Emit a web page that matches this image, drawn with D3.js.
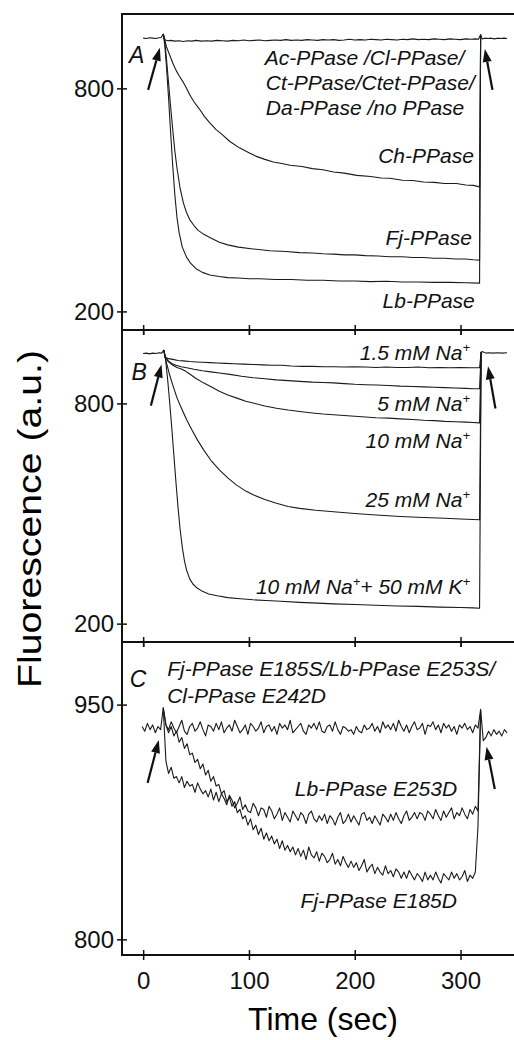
<!DOCTYPE html>
<html>
<head>
<meta charset="utf-8">
<script src="https://cdn.jsdelivr.net/npm/d3@7"></script>
<style>
  body { margin: 0; background: #fff; }
  svg { display: block; font-family: "Liberation Sans", Arial, sans-serif; }
  .rotulo { font-style: italic; font-size: 21px; fill: #111; }
  .letra { font-style: italic; font-size: 23px; fill: #111; }
  .tick text { font-size: 24px; fill: #111; font-family: "Liberation Sans", Arial, sans-serif; }
  .tick line { stroke: #111; stroke-width: 1.5; }
  .traco { fill: none; stroke: #1a1a1a; stroke-width: 1.1; stroke-linejoin: round; }
</style>
</head>
<body>
<svg id="grafico"></svg>
<script>
// ---- painel A: [tempo (s), fluorescencia] ----
var semEfeitoA = [[0,935],[3,934],[6,936],[9,935],[12,934],[15,936],[17,937],[19,946],[20.5,931],[23,928],[26,929],[30,927],[34,928],[38,926],[42,928],[46,927],[50,929],[55,927],[60,928],[65,927],[70,929],[75,928],[80,927],[85,929],[90,928],[95,930],[100,928],[105,929],[110,930],[115,928],[120,929],[125,930],[130,929],[135,931],[140,929],[145,930],[150,929],[155,931],[160,930],[165,929],[170,931],[175,930],[180,931],[185,929],[190,930],[195,932],[200,930],[205,931],[210,930],[215,932],[220,931],[225,930],[230,932],[235,931],[240,930],[245,932],[250,931],[255,933],[260,931],[265,932],[270,931],[275,933],[280,932],[285,931],[290,933],[295,932],[300,931],[305,933],[310,932],[314,933],[317,932],[319,944],[320.5,933],[323,935],[326,934],[329,935],[332,933],[335,935],[338,934],[341,935],[344,934]];
var chA = [[19,946],[20.5,930],[22,912],[25,890],[28,868],[31,849],[34,834],[38,816],[41,800],[44,783],[48,764],[53,745],[58,724],[63,707],[69,689],[75,675],[82,657],[91,640],[100,627],[107,617],[115,609],[123,602],[131,598],[139,593],[150,590],[160,584],[170,581],[180,575],[190,572],[202,566],[215,563],[225,559],[233,558],[245,553],[255,552],[265,548],[275,547],[285,544],[296,544],[305,540],[312,539],[318,535],[319,944]];
var fjA = [[19,946],[20.5,925],[22,880],[24,815],[26,750],[28,688],[30,630],[32,585],[35,530],[38,492],[41,466],[44,447],[48,431],[52,418],[57,408],[63,399],[72,386],[80,379],[90,373],[104,368],[120,363],[135,361],[148,358],[160,357],[170,355],[180,354],[190,352],[200,352],[210,350],[222,349],[233,347],[245,347],[255,345],[265,345],[275,343],[285,343],[295,341],[305,341],[312,339],[318,338],[319,944]];
var lbA = [[19,946],[20.5,915],[22,860],[24,775],[26,680],[28,590],[30,512],[32,452],[34,412],[37,373],[41,346],[45,329],[50,315],[56,305],[63,298],[72,294],[80,291],[90,290],[100,288],[110,288],[125,286],[140,286],[155,284],[170,284],[185,282],[200,282],[215,280],[230,281],[245,279],[260,279],[275,278],[290,278],[305,277],[318,276],[319,944]];

// ---- painel B ----
var na15 = [[0,936],[3,937],[6,935],[9,937],[12,936],[15,938],[17.5,937],[19.5,945],[21,926],[24,922],[28,920],[33,917],[38,916],[44,914],[50,913],[56,912],[63,911],[70,910],[78,909],[86,908],[95,907],[104,906],[113,905],[122,904],[131,904],[140,902],[150,901],[160,901],[170,900],[180,900],[190,899],[200,900],[210,899],[220,898],[230,899],[240,898],[250,898],[260,899],[270,897],[280,898],[290,897],[300,898],[310,897],[318,897],[319.5,940],[321,941],[324,937],[327,938],[331,937],[335,938],[339,937],[344,938]];
var na5 = [[19.5,945],[21,925],[24,915],[27,909],[31,904],[36,900],[41,897],[48,893],[56,889],[64,886],[72,883],[82,879],[93,874],[104,870],[115,867],[126,864],[137,862],[148,860],[160,858],[170,857],[180,856],[190,854],[200,852],[210,851],[220,850],[232,849],[243,847],[255,846],[265,845],[275,844],[285,843],[295,842],[305,841],[312,840],[318,840],[319.5,940]];
var na10 = [[19.5,945],[21,924],[24,913],[28,904],[32,898],[36,894],[40,888],[44,880],[50,868],[57,856],[65,844],[72,833],[80,823],[90,813],[97,806],[104,801],[115,793],[126,787],[137,782],[148,778],[160,774],[170,771],[180,769],[190,767],[200,765],[210,763],[220,761],[232,760],[243,758],[255,756],[265,754],[275,753],[285,751],[295,750],[305,749],[312,748],[318,747],[319.5,940]];
var na25 = [[19.5,945],[21,922],[23,900],[25,878],[28,850],[32,815],[36,788],[41,756],[46,728],[51,702],[57,674],[64,645],[72,619],[80,597],[88,578],[96,563],[104,551],[115,538],[126,528],[137,519],[148,514],[163,509],[180,505],[200,500],[220,496],[243,492],[265,489],[285,487],[300,485],[318,483],[319.5,940]];
var naK = [[19.5,945],[21,925],[23,870],[25,805],[27,735],[29,660],[31,585],[33,515],[35,455],[37,408],[39,372],[41,346],[44,322],[47,308],[51,297],[56,288],[62,281],[70,276],[80,271],[92,268],[104,265],[116,263],[130,261],[148,258],[165,256],[180,254],[200,252],[220,250],[240,248],[260,247],[280,245],[300,244],[312,243],[318,242],[319.5,940]];

// ---- painel C: amostras a cada 2.5 s ----
var passoC = 2.5;
var inicioTopoC = -1;
var topoC = [936,933,938,934,937,932,936,934,948,
  937,934,939,935,932,936,940,933,931,936, 938,933,935,939,934,930,937,936,933,938,
  934,939,932,935,937,933,940,936,932,934, 937,931,938,936,933,935,939,932,936,937,
  933,936,931,938,935,937,934,940,932,934, 936,938,933,931,937,935,938,934,939,933,
  932,936,937,933,939,934,931,936,935,933, 934,931,936,933,932,937,934,935,938,933,
  936,932,939,935,937,934,938,933,940,936, 933,937,932,936,939,934,935,938,931,937,
  936,939,934,937,932,938,935,937,933,936, 931,937,935,938,934,936,932,937,935,
  947,927,929,933,930,934,931,933,930,934,932];
var inicioMutC = 19;
var lbE253D = [948,914,906,910,903,904,900,904,897,901,898,
  899,894,900,896,893, 895,891,896,889,894, 888,893,890,886,892, 889,884,887,891,883,
  886,882,881,887,884, 879,884,883,878,885, 882,877,880,884,876, 881,878,875,882,879,
  876,881,879,874,880, 882,877,875,879,876, 880,874,879,877,873, 878,881,874,876,880,
  875,879,876,873,880, 881,876,878,874,879, 876,873,880,878,875, 880,876,881,877,874,
  879,882,876,878,881, 877,881,880,876,882, 880,877,883,879,876, 882,878,881,884,877,
  881,879,884,880,877, 883,880,885,882, 946];
var fjE185D = [948,
  937,932,936,930,933,926,929,922,925,918,
  919,913,915,909,912,905,908,901,904,898,
  899,893,895,888,891,885,888,881,883,877,
  879,873,877,870,873,867,871,864,868,863,
  866,861,864,858,863,857,860,856,859,854,
  858,853,857,851,859,854,852,856,850,855,
  853,849,851,855,848,851,847,853,849,846,
  850,846,849,844,847,851,843,846,848,842,
  846,843,841,847,842,844,840,845,843,839,
  843,839,844,841,838,842,840,837,843,838,
  841,838,843,839,836,842,840,838,843,839,
  842,838,840,844,837,841,839,843,
  872,946];

// ---- marcas do eixo e textos ----
var ticksX = [0, 100, 200, 300];
var ticksA = [200, 800];
var ticksB = [200, 800];
var ticksC = [800, 950];

var rotulosA = [
  {t: 115, v: 863, texto: 'Ac-PPase /Cl-PPase/', ancora: 'start'},
  {t: 116, v: 796, texto: 'Ct-PPase/Ctet-PPase/', ancora: 'start'},
  {t: 116, v: 728, texto: 'Da-PPase /no PPase', ancora: 'start'},
  {t: 312.6, v: 599, texto: 'Ch-PPase', ancora: 'end'},
  {t: 310.7, v: 379, texto: 'Fj-PPase', ancora: 'end'},
  {t: 313.5, v: 209, texto: 'Lb-PPase', ancora: 'end'}
];
var rotulosB = [
  {t: 309, v: 918, texto: '1.5 mM Na^+', ancora: 'end'},
  {t: 309, v: 780, texto: '5 mM Na^+', ancora: 'end'},
  {t: 309, v: 679, texto: '10 mM Na^+', ancora: 'end'},
  {t: 309, v: 519, texto: '25 mM Na^+', ancora: 'end'},
  {t: 309, v: 280, texto: '10 mM Na^++ 50 mM K^+', ancora: 'end'}
];
var rotulosC = [
  {t: 22.7, v: 968, texto: 'Fj-PPase E185S/Lb-PPase E253S/', ancora: 'start'},
  {t: 22.7, v: 951, texto: 'Cl-PPase E242D', ancora: 'start'},
  {t: 143.4, v: 891.6, texto: 'Lb-PPase E253D', ancora: 'start'},
  {t: 148.8, v: 820, texto: 'Fj-PPase E185D', ancora: 'start'}
];

// setas: [tempo cauda, valor cauda, tempo ponta, valor ponta]
var setasA = [[4.7, 796, 15.8, 909], [330.2, 796, 323, 906]];
var setasB = [[7.3, 794, 17.4, 906], [333, 786, 326, 901]];
var setasC = [[4.2, 900, 14.8, 927.4], [332.4, 896, 324.6, 923]];

function amostras(inicio, passo, valores) {
  return valores.map((v, i) => [inicio + i * passo, v]);
}

var largura = 514, altura = 1040;
var svg = d3.select('#grafico')
            .attr('width', largura)
            .attr('height', altura);

var esquerda = 122, direita = 524;
var x = d3.scaleLinear().domain([-20, 360]).range([esquerda, direita]);

var paineis = [
  {letra: 'A', topo: 14, base: 330, dominio: [150, 1000], ticks: ticksA,
   series: [semEfeitoA, chA, fjA, lbA], rotulos: rotulosA, setas: setasA, letraPos: [-13.5, 869]},
  {letra: 'B', topo: 330, base: 642, dominio: [150, 1000], ticks: ticksB,
   series: [na15, na5, na10, na25, naK], rotulos: rotulosB, setas: setasB, letraPos: [-11, 863]},
  {letra: 'C', topo: 642, base: 955, dominio: [790, 990], ticks: ticksC,
   series: [amostras(inicioTopoC, passoC, topoC), amostras(inicioMutC, passoC, lbE253D), amostras(inicioMutC, passoC, fjE185D)],
   rotulos: rotulosC, setas: setasC, letraPos: [-12.6, 961.4]}
];

paineis.forEach(function(p, k) {
  var y = d3.scaleLinear().domain(p.dominio).range([p.base, p.topo]);
  var g = svg.append('g').attr('id', 'painel' + p.letra);

  var linha = d3.line().x(d => x(d[0])).y(d => y(d[1]));
  g.selectAll('.traco')
    .data(p.series)
    .enter()
      .append('path')
      .classed('traco', true)
      .attr('d', linha);

  // eixo y (marcas cruzando a borda)
  g.append('g')
   .attr('transform', 'translate(' + esquerda + ',0)')
   .call(d3.axisLeft(y).tickValues(p.ticks).tickSize(5).tickPadding(3))
   .call(s => s.select('.domain').remove());
  g.append('g')
   .attr('transform', 'translate(' + esquerda + ',0)')
   .call(d3.axisRight(y).tickValues(p.ticks).tickSize(5).tickFormat(''))
   .call(s => s.select('.domain').remove());

  // marcas de x na base do painel
  g.append('g')
   .attr('transform', 'translate(0,' + p.base + ')')
   .call(d3.axisTop(x).tickValues(ticksX).tickSize(5).tickFormat(''))
   .call(s => s.select('.domain').remove());
  var eixoX = d3.axisBottom(x).tickValues(ticksX).tickSize(5).tickPadding(12);
  if (k < 2) eixoX.tickFormat('');
  g.append('g')
   .attr('transform', 'translate(0,' + p.base + ')')
   .call(eixoX)
   .call(s => s.select('.domain').remove());
  if (k > 0) {
    g.append('g')
     .attr('transform', 'translate(0,' + p.topo + ')')
     .call(d3.axisBottom(x).tickValues(ticksX).tickSize(5).tickFormat(''))
     .call(s => s.select('.domain').remove());
  }

  g.append('text')
   .classed('letra', true)
   .attr('x', x(p.letraPos[0]))
   .attr('y', y(p.letraPos[1]))
   .text(p.letra);

  g.selectAll('.rotulo')
    .data(p.rotulos)
    .enter()
      .append('text')
      .classed('rotulo', true)
      .attr('x', d => x(d.t))
      .attr('y', d => y(d.v))
      .style('text-anchor', d => d.ancora)
      .each(function(d) {
        var el = d3.select(this);
        var partes = d.texto.split(/\^(.)/);
        partes.forEach(function(parte, i) {
          if (parte === '') return;
          if (i % 2 === 1) {
            el.append('tspan').attr('dy', -8).style('font-size', '13px').text(parte);
          } else {
            el.append('tspan').attr('dy', i > 0 ? 8 : 0).text(parte);
          }
        });
      });

  p.setas.forEach(function(s) {
    var x0 = x(s[0]), y0 = y(s[1]), x1 = x(s[2]), y1 = y(s[3]);
    var dx = x1 - x0, dy = y1 - y0, n = Math.sqrt(dx * dx + dy * dy);
    var ux = dx / n, uy = dy / n, comp = 13, meia = 4.5;
    var bx = x1 - ux * comp, by = y1 - uy * comp;
    g.append('line')
     .attr('x1', x0).attr('y1', y0).attr('x2', bx).attr('y2', by)
     .attr('stroke', '#111').attr('stroke-width', 2.2);
    g.append('polygon')
     .attr('points', [[x1, y1], [bx - uy * meia, by + ux * meia], [bx + uy * meia, by - ux * meia]].map(q => q.join(',')).join(' '))
     .attr('fill', '#111');
  });
});

// moldura
var moldura = svg.append('g').attr('stroke', '#111').attr('stroke-width', 2).attr('fill', 'none');
moldura.append('rect')
       .attr('x', esquerda).attr('y', 14)
       .attr('width', direita - esquerda).attr('height', 955 - 14);
[330, 642].forEach(function(yy) {
  moldura.append('line').attr('x1', esquerda).attr('x2', direita).attr('y1', yy).attr('y2', yy);
});

svg.append('text')
   .attr('x', 0)
   .attr('y', 0)
   .style('text-anchor', 'middle')
   .style('font-size', '32px')
   .attr('transform', 'translate(' + x(170) + ',1030)')
   .text('Time (sec)');

svg.append('text')
   .attr('x', 0)
   .attr('y', 0)
   .style('text-anchor', 'middle')
   .style('font-size', '33px')
   .attr('textLength', 338)
   .attr('lengthAdjust', 'spacingAndGlyphs')
   .attr('transform', 'translate(41,519) rotate(-90)')
   .text('Fluorescence (a.u.)');
</script>
</body>
</html>
